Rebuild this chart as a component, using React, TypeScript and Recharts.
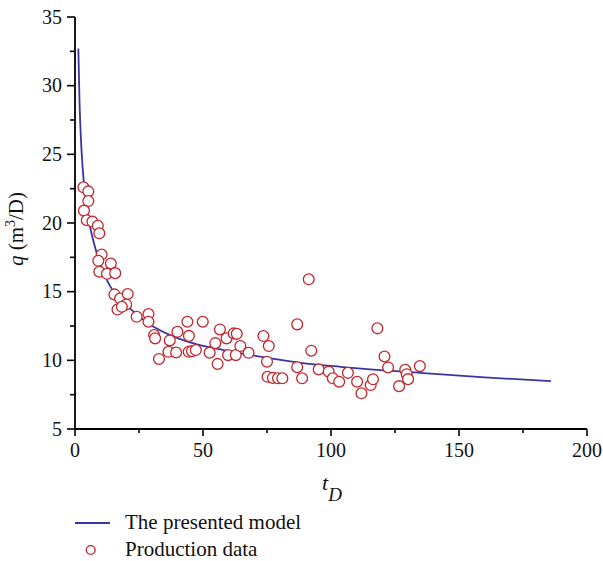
import React from "react";
import { ComposedChart, XAxis, YAxis, Line, Scatter } from "recharts";

// Presented model curve (t_D, q)
const modelT = [1.3, 1.8, 2.3, 3.0, 3.8, 5.0, 6.5, 8.2, 10.4, 13.7, 17.5, 22.2, 30.7, 37.2, 46.3, 58.1, 71.1, 88.1, 103.7, 121, 137.6, 160, 185.9];
const modelQ = [32.7, 28.6, 26.2, 24.0, 22.3, 20.6, 19.2, 18.0, 16.8, 15.4, 14.5, 13.66, 12.45, 11.84, 11.23, 10.75, 10.31, 9.82, 9.53, 9.27, 9.05, 8.76, 8.49];

// Production data (t_D, q)
const prodT = [3.3, 5.2, 5.2, 3.5, 4.6, 6.8, 8.9, 9.5, 10.4, 9.1, 14.0, 9.5, 12.5, 15.7, 15.4, 17.6, 20.6, 20.0, 16.6, 18.3, 24.1, 28.7, 28.7, 30.9, 31.3, 37.0, 40.0, 43.9, 44.5, 49.9, 32.8, 36.5, 39.5, 44.4, 45.7, 47.2, 52.6, 54.8, 56.6, 55.7, 59.2, 62.0, 63.2, 59.8, 62.8, 64.6, 67.8, 73.6, 75.7, 75.0, 75.2, 77.3, 79.3, 81.0, 86.8, 86.8, 88.7, 91.3, 92.3, 95.2, 99.1, 100.7, 103.2, 106.6, 110.2, 111.9, 115.5, 116.4, 118.1, 120.9, 122.3, 129.0, 129.6, 130.1, 126.6, 134.7];
const prodQ = [22.6, 22.3, 21.6, 20.9, 20.2, 20.1, 19.8, 19.25, 17.7, 17.25, 17.05, 16.45, 16.3, 16.35, 14.8, 14.5, 14.83, 14.07, 13.7, 13.9, 13.17, 13.37, 12.81, 11.84, 11.6, 11.45, 12.08, 12.81, 11.78, 12.81, 10.1, 10.62, 10.57, 10.62, 10.67, 10.75, 10.56, 11.25, 12.25, 9.74, 11.6, 11.96, 11.93, 10.38, 10.38, 11.04, 10.55, 11.77, 11.04, 9.9, 8.8, 8.72, 8.69, 8.69, 12.62, 9.5, 8.69, 15.9, 10.7, 9.34, 9.17, 8.69, 8.44, 9.09, 8.44, 7.6, 8.2, 8.62, 12.33, 10.28, 9.48, 9.31, 8.99, 8.63, 8.12, 9.58];

const xTicks = [0, 25, 50, 75, 100, 125, 150, 175, 200];
const yTicks = [5, 7.5, 10, 12.5, 15, 17.5, 20, 22.5, 25, 27.5, 30, 32.5, 35];

const modelData = modelT.map((t, i) => ({ t, q: modelQ[i] }));
const prodData = prodT.map((t, i) => ({ t, q: prodQ[i] }));

const FONT = '"Liberation Serif"';
const LINE_COLOR = "#3a35a6";
const DOT_COLOR = "#c3262d";
const txt = { fontFamily: FONT };

const XTick = (props: any) => {
  const { x, y, payload } = props;
  const v = payload.value;
  const major = v % 50 === 0;
  return (
    <g>
      <line x1={x} x2={x} y1={y} y2={y + (major ? 7 : 4)} stroke="#000" strokeWidth={1.6} />
      {major && (
        <text x={x} y={y + 28} textAnchor="middle" fontSize={20} style={txt} fill="#111">
          {v}
        </text>
      )}
    </g>
  );
};

const YTick = (props: any) => {
  const { x, y, payload } = props;
  const v = payload.value;
  const major = v % 5 === 0;
  return (
    <g>
      <line x1={x - (major ? 8 : 5)} x2={x} y1={y} y2={y} stroke="#000" strokeWidth={1.6} />
      {major && (
        <text x={x - 13} y={y + 6.5} textAnchor="end" fontSize={20} style={txt} fill="#111">
          {v}
        </text>
      )}
    </g>
  );
};

const Dot = (props: any) => {
  const { cx, cy } = props;
  return <circle cx={cx} cy={cy} r={5.4} fill="#fff" stroke={DOT_COLOR} strokeWidth={1.3} />;
};

const LegendBox = () => (
  <svg width={603} height={61} style={{ position: "absolute", left: 0, top: 500, display: "block" }}>
    <line x1={75} x2={110} y1={23} y2={23} stroke={LINE_COLOR} strokeWidth={1.8} />
    <text x={125} y={28.5} fontSize={21} style={txt} fill="#111">
      The presented model
    </text>
    <circle cx={90.7} cy={50} r={4.4} fill="#fff" stroke={DOT_COLOR} strokeWidth={1.4} />
    <text x={125} y={56} fontSize={21} style={txt} fill="#111">
      Production data
    </text>
  </svg>
);

export default function App() {
  return (
    <div style={{ position: "absolute", left: 0, top: 0, width: 603, height: 561, background: "#fff", fontFamily: FONT }}>
      <ComposedChart width={603} height={561} margin={{ top: 17, right: 16, bottom: 72, left: 0 }}>
        <XAxis
          type="number"
          dataKey="t"
          domain={[0, 200]}
          ticks={xTicks}
          interval={0}
          tickSize={0}
          tickMargin={0}
          tickLine={false}
          tick={<XTick />}
          height={60}
          axisLine={{ stroke: "#000", strokeWidth: 1.8 }}
          allowDataOverflow
          label={{
            content: () => (
              <text x={332} y={490} textAnchor="middle" style={txt} fill="#111">
                <tspan fontStyle="italic" fontSize={22}>t</tspan>
                <tspan fontStyle="italic" fontSize={19} dy={11}>D</tspan>
              </text>
            ),
          }}
        />
        <YAxis
          type="number"
          dataKey="q"
          domain={[5, 35]}
          ticks={yTicks}
          interval={0}
          tickSize={0}
          tickMargin={0}
          tickLine={false}
          tick={<YTick />}
          width={75}
          axisLine={{ stroke: "#000", strokeWidth: 1.8 }}
          allowDataOverflow
          label={{
            content: () => (
              <text
                x={23}
                y={229}
                transform="rotate(-90 23 229)"
                textAnchor="middle"
                style={txt}
                fontSize={21}
                fill="#111"
              >
                <tspan fontStyle="italic">q</tspan>
                <tspan> (m</tspan>
                <tspan fontSize={14} dy={-8}>3</tspan>
                <tspan dy={8}>/D)</tspan>
              </text>
            ),
          }}
        />
        <Line
          data={modelData}
          dataKey="q"
          type="monotone"
          stroke={LINE_COLOR}
          strokeWidth={1.8}
          dot={false}
          activeDot={false}
          isAnimationActive={false}
          name="The presented model"
        />
        <Scatter
          data={prodData}
          dataKey="q"
          shape={<Dot />}
          isAnimationActive={false}
          name="Production data"
        />
      </ComposedChart>
      <LegendBox />
    </div>
  );
}
